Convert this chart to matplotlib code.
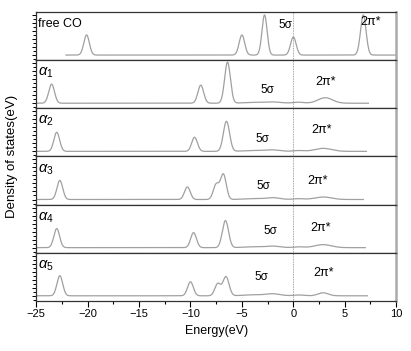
import matplotlib
matplotlib.use('Agg')
import matplotlib.pyplot as plt
import numpy as np
from matplotlib.ticker import MultipleLocator

plt.rcParams['font.family'] = ['Liberation Sans', 'DejaVu Sans']
plt.rcParams['mathtext.fontset'] = 'custom'
plt.rcParams['mathtext.rm'] = 'Liberation Sans'
plt.rcParams['mathtext.it'] = 'Liberation Sans:italic'

# panel names
labels = ['free CO', r'$\alpha_1$', r'$\alpha_2$', r'$\alpha_3$', r'$\alpha_4$', r'$\alpha_5$']
# energy range of each curve (eV)
x_start = [-22.1, -25.0, -25.0, -25.0, -25.0, -25.0]
x_end = [10.0, 7.3, 7.1, 6.8, 7.0, 7.2]
# peak centres (eV), heights (arb.) and widths (eV)
centres = [
    [-20.1, -5.0, -2.8, 0.0, 6.8],
    [-23.5, -9.0, -6.4, -4.0, -2.0, 0.5, 3.1],
    [-23.0, -9.6, -6.5, -4.0, -2.1, 0.5, 2.9],
    [-22.7, -10.3, -7.5, -6.8, -4.0, -2.0, 0.5, 2.9],
    [-23.0, -9.7, -6.6, -4.0, -2.0, 0.5, 2.9],
    [-22.7, -10.0, -7.35, -6.55, -4.0, -2.0, 0.5, 2.9],
]
heights = [
    [20, 20, 40, 18, 40],
    [19, 18, 41, 0.8, 1.2, 1.0, 5.5],
    [19, 14, 30, 0.8, 1.5, 0.8, 3.0],
    [19, 12.5, 15, 25, 0.8, 1.8, 0.8, 2.5],
    [19, 15, 27, 0.8, 1.5, 0.8, 3.0],
    [20, 14, 12, 19, 1.0, 2.0, 0.8, 3.0],
]
widths = [
    [0.27, 0.27, 0.25, 0.27, 0.27],
    [0.28, 0.28, 0.28, 0.9, 0.8, 0.5, 0.7],
    [0.28, 0.28, 0.3, 0.9, 0.7, 0.5, 0.8],
    [0.28, 0.28, 0.28, 0.28, 0.9, 0.7, 0.5, 0.8],
    [0.28, 0.28, 0.3, 0.9, 0.7, 0.5, 0.8],
    [0.28, 0.28, 0.28, 0.3, 0.9, 0.7, 0.5, 0.5],
]
# orbital labels: x positions (eV) and heights in panel units
sig_x = [-0.8, -2.5, -3.0, -2.9, -2.2, -3.1]
sig_y = [30, 13, 12.5, 13, 17, 19]
pi_x = [7.5, 3.1, 2.7, 2.4, 2.6, 2.9]
pi_y = [33, 21, 21, 18, 20, 23]

fig = plt.figure(figsize=(4.11, 3.51), dpi=100)
gs = fig.add_gridspec(6, 1, left=0.088, right=0.964, bottom=0.143, top=0.966, hspace=0)

axes = []
for i in range(6):
    ax = fig.add_subplot(gs[i])
    axes.append(ax)
    e = np.linspace(x_start[i], x_end[i], 1500)
    dos = np.zeros_like(e)
    for c, h, w in zip(centres[i], heights[i], widths[i]):
        dos += h * np.exp(-0.5 * ((e - c) / w) ** 2)
    ax.plot(e, dos, color='#a0a0a0', lw=0.9)
    ax.axvline(0, color='#888888', lw=0.6, ls=(0, (1, 1)))
    ax.set_xlim(-25, 10)
    ax.set_ylim(-5, 43)
    ax.xaxis.set_major_locator(MultipleLocator(5))
    ax.xaxis.set_minor_locator(MultipleLocator(2.5))
    ax.yaxis.set_major_locator(MultipleLocator(8))
    ax.yaxis.set_minor_locator(MultipleLocator(4))
    ax.tick_params(axis='x', which='major', direction='out', length=4, width=0.8, labelsize=8, pad=2)
    ax.tick_params(axis='x', which='minor', direction='out', length=2.5, width=0.8)
    ax.tick_params(axis='y', which='major', direction='out', length=3, width=0.7, labelleft=False)
    ax.tick_params(axis='y', which='minor', direction='out', length=2, width=0.7)
    if i < 5:
        ax.tick_params(axis='x', labelbottom=False)
    for s in ['top', 'bottom', 'left']:
        ax.spines[s].set_color('#333333')
        ax.spines[s].set_linewidth(0.9)
    ax.spines['right'].set_color('#aaaaaa')
    ax.spines['right'].set_linewidth(1.8)
    if i == 0:
        ax.text(-24.85, 31, labels[i], fontsize=9, va='center', ha='left')
    else:
        ax.text(-24.85, 30, labels[i], fontsize=10.5, va='center', ha='left')
    ax.text(sig_x[i], sig_y[i], '5σ', fontsize=8.5, ha='center', va='center')
    ax.text(pi_x[i], pi_y[i], '2π*', fontsize=9, ha='center', va='center')

axes[-1].set_xlabel('Energy(eV)', fontsize=9, labelpad=4)
fig.text(0.03, 0.555, 'Density of states(eV)', rotation=90, fontsize=9.5, ha='center', va='center')

fig.savefig('out.png', dpi=100)
